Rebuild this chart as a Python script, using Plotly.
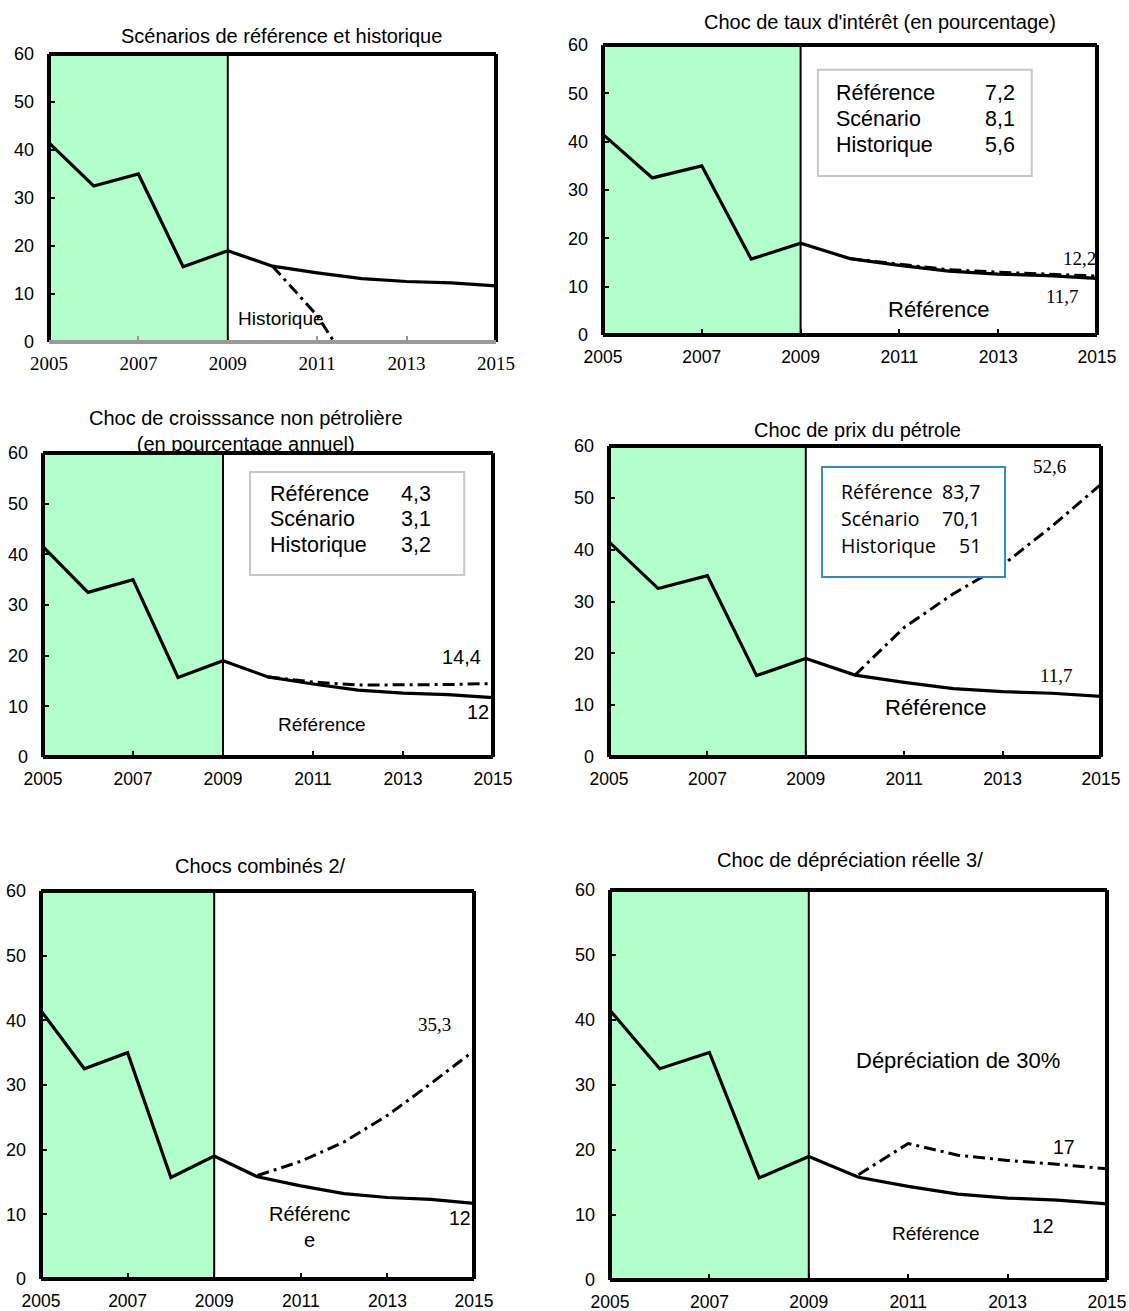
import plotly.graph_objects as go

W, H = 1129, 1311

years = [2005, 2006, 2007, 2008, 2009, 2010, 2011, 2012, 2013, 2014, 2015]
proj_years = [2010, 2011, 2012, 2013, 2014, 2015]
reference = [41.5, 32.5, 35.0, 15.7, 19.0, 15.8, 14.4, 13.2, 12.6, 12.3, 11.7]

historique = [15.8, 5.5, -9.0, -25.0, -42.0, -60.0]
choc_taux = [15.8, 14.6, 13.5, 13.0, 12.6, 12.2]
choc_croissance = [15.8, 14.8, 14.2, 14.2, 14.3, 14.5]
choc_petrole = [15.8, 25.0, 31.5, 37.0, 44.5, 52.6]
chocs_combines = [16.0, 18.2, 21.2, 25.3, 30.2, 35.3]
choc_depreciation = [16.2, 21.0, 19.2, 18.4, 17.8, 17.1]

y_ticks = [0, 10, 20, 30, 40, 50, 60]
x_ticks = [2005, 2007, 2009, 2011, 2013, 2015]

titles = [
    "Scénarios de référence et historique",
    "Choc de taux d'intérêt (en pourcentage)",
    "Choc de croisssance non pétrolière<br>(en pourcentage annuel)",
    "Choc de prix du pétrole",
    "Chocs combinés 2/",
    "Choc de dépréciation réelle 3/",
]
scenarios = [historique, choc_taux, choc_croissance, choc_petrole, chocs_combines, choc_depreciation]

# panel pixel boxes: left, right, top, bottom
boxes = [
    (49, 496, 54, 342),
    (603, 1097, 45, 335),
    (43, 493, 453, 757),
    (609, 1101, 446, 757),
    (41, 474, 891, 1279),
    (610, 1107, 890, 1280),
]
title_pos = [(281, 36), (880, 22), (246, 431), (857, 430), (260, 866), (850, 860)]

SANS = "Liberation Sans, Arial, sans-serif"
SERIF = "Liberation Serif, Times New Roman, serif"
GREEN = "#b3ffcc"

fig = go.Figure()
shapes = []
annotations = []

for i in range(6):
    n = i + 1
    xa = "x" if n == 1 else f"x{n}"
    ya = "y" if n == 1 else f"y{n}"
    L, R, T, B = boxes[i]
    xdom = [L / W, R / W]
    ydom = [1 - B / H, 1 - T / H]
    tickfont = dict(family=SERIF, size=19, color="black") if n == 1 else \
        dict(family=SANS, size=17.5, color="black")
    fig.add_trace(go.Scatter(x=years, y=reference, mode="lines", xaxis=xa, yaxis=ya,
                             line=dict(color="black", width=3.2), showlegend=False,
                             hoverinfo="skip"))
    fig.add_trace(go.Scatter(x=proj_years, y=scenarios[i], mode="lines", xaxis=xa, yaxis=ya,
                             line=dict(color="black", width=3, dash="12px,5px,3px,5px"),
                             showlegend=False, hoverinfo="skip"))
    xkey = "xaxis" if n == 1 else f"xaxis{n}"
    ykey = "yaxis" if n == 1 else f"yaxis{n}"
    fig.layout[xkey] = dict(domain=xdom, anchor=ya, range=[2005, 2015], tickvals=x_ticks,
                            ticktext=[str(v) for v in x_ticks], ticks="inside", ticklen=6,
                            tickwidth=2, tickcolor="#999999" if n == 1 else "black",
                            showgrid=False, zeroline=False, showline=False, automargin=False,
                            tickfont=tickfont, ticklabelstandoff=8 if n == 1 else 9,
                            fixedrange=True)
    fig.layout[ykey] = dict(domain=ydom, anchor=xa, range=[0, 60], tickvals=y_ticks,
                            ticks="inside", ticklen=6, tickwidth=2, tickcolor="black",
                            showgrid=False, zeroline=False, showline=False, automargin=False,
                            tickfont=dict(family=SANS, size=18, color="black"),
                            ticklabelstandoff=14, fixedrange=True)
    # green historical area
    shapes.append(dict(type="rect", xref=xa, yref=ya, x0=2005, x1=2009, y0=0, y1=60,
                       fillcolor=GREEN, line=dict(width=0), layer="below"))
    shapes.append(dict(type="line", xref=xa, yref=ya, x0=2009, x1=2009, y0=0, y1=60,
                       line=dict(color="black", width=2)))
    # frame
    dx = f"{xa} domain"
    dy = f"{ya} domain"
    shapes.append(dict(type="line", xref=dx, yref=dy, x0=0, x1=1, y0=1, y1=1,
                       line=dict(color="black", width=4)))
    shapes.append(dict(type="line", xref=dx, yref=dy, x0=0, x1=0, y0=0, y1=1,
                       line=dict(color="black", width=4)))
    shapes.append(dict(type="line", xref=dx, yref=dy, x0=1, x1=1, y0=0, y1=1,
                       line=dict(color="black", width=4)))
    shapes.append(dict(type="line", xref=dx, yref=dy, x0=0, x1=1, y0=0, y1=0,
                       line=dict(color="#9a9a9a" if n == 1 else "black", width=4)))
    # title
    tx, ty = title_pos[i]
    annotations.append(dict(xref="paper", yref="paper", x=tx / W, y=1 - ty / H,
                            text=titles[i], showarrow=False, xanchor="center", yanchor="middle",
                            font=dict(family=SANS, size=20, color="black")))

def ann(n, x, y, text, size=17, family=SANS, xanchor="center"):
    xa = "x" if n == 1 else f"x{n}"
    ya = "y" if n == 1 else f"y{n}"
    annotations.append(dict(xref=xa, yref=ya, x=x, y=y, text=text, showarrow=False,
                            xanchor=xanchor, yanchor="middle",
                            font=dict(family=family, size=size, color="black")))

OPEN = "Open Sans, sans-serif"

# Panel 1
ann(1, 2010.2, 5.0, "Historique", 19)

# Panel 2
shapes.append(dict(type="rect", xref="x2", yref="y2", x0=2009.35, x1=2013.68, y0=32.9, y1=54.9,
                   line=dict(color="#c8c8c8", width=2), fillcolor="white"))
for lab, val, yy in [("Référence", "7,2", 50.1), ("Scénario", "8,1", 44.7), ("Historique", "5,6", 39.3)]:
    ann(2, 2009.68, yy, lab, 21.5, xanchor="left")
    ann(2, 2012.7, yy, val, 21.5, xanchor="left")
ann(2, 2014.64, 15.9, "12,2", 19, SERIF)
ann(2, 2014.3, 7.9, "11,7", 19, SERIF)
ann(2, 2011.8, 5.2, "Référence", 22)

# Panel 3
shapes.append(dict(type="rect", xref="x3", yref="y3", x0=2009.6, x1=2014.36, y0=35.9, y1=56.25,
                   line=dict(color="#c8c8c8", width=2), fillcolor="white"))
for lab, val, yy in [("Référence", "4,3", 51.9), ("Scénario", "3,1", 46.9), ("Historique", "3,2", 41.8)]:
    ann(3, 2010.0, yy, lab, 21.5, xanchor="left")
    ann(3, 2012.9, yy, val, 21.5, xanchor="left")
ann(3, 2014.29, 19.7, "14,4", 20)
ann(3, 2014.67, 8.9, "12", 20)
ann(3, 2011.2, 6.5, "Référence", 19)

# Panel 4
shapes.append(dict(type="rect", xref="x4", yref="y4", x0=2009.33, x1=2013.05, y0=34.73, y1=55.95,
                   line=dict(color="#3a87c8", width=2), fillcolor="white"))
for lab, val, yy in [("Référence", "83,7", 51.3), ("Scénario", "70,1", 46.1), ("Historique", "51", 40.9)]:
    ann(4, 2009.67, yy, lab, 19.5, OPEN, xanchor="left")
    ann(4, 2012.6, yy, val, 19.5, OPEN, xanchor="right")
ann(4, 2013.96, 55.95, "52,6", 19, SERIF)
ann(4, 2014.09, 15.8, "11,7", 19, SERIF)
ann(4, 2011.65, 9.6, "Référence", 22)

# Panel 5
ann(5, 2014.08, 39.3, "35,3", 19, SERIF)
ann(5, 2014.68, 9.4, "12", 19.5)
ann(5, 2011.2, 8.0, "Référenc<br>e", 20)

# Panel 6
ann(6, 2012.0, 33.8, "Dépréciation de 30%", 22)
ann(6, 2014.13, 20.5, "17", 19.5)
ann(6, 2013.71, 8.3, "12", 19.5)
ann(6, 2011.56, 7.2, "Référence", 19)

fig.update_layout(width=W, height=H, margin=dict(l=0, r=0, t=0, b=0, autoexpand=False),
                  paper_bgcolor="white", plot_bgcolor="white",
                  shapes=shapes, annotations=annotations, showlegend=False)

fig.write_html("out.html", config={"displayModeBar": False},
               post_script="document.body.style.margin='0';document.body.style.overflow='hidden';")
